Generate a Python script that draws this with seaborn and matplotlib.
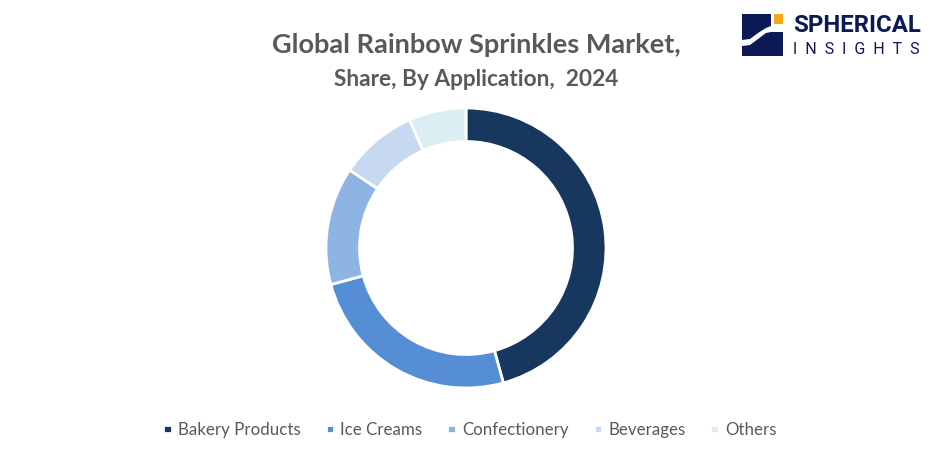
import seaborn as sns
import matplotlib.pyplot as plt
from matplotlib.patches import Rectangle, Polygon

categories = ["Bakery Products", "Ice Creams", "Confectionery", "Beverages", "Others"]
shares = [45.7, 25.1, 13.6, 9.0, 6.6]
colors = ["#17375E", "#558ED5", "#8EB4E3", "#C6D9F1", "#DBEEF4"]

sns.set_theme(style="white")
plt.rcParams['font.family'] = ['Lato', 'DejaVu Sans']

W, H = 932, 459
fig = plt.figure(figsize=(W / 100, H / 100), dpi=100)
ax = fig.add_axes([0, 0, 1, 1])

wedges, _ = ax.pie(shares, colors=sns.color_palette(colors), startangle=90, counterclock=False,
                   center=(466, H - 248), radius=140,
                   wedgeprops=dict(width=33.5, edgecolor="white", linewidth=2))
ax.set_xlim(0, W)
ax.set_ylim(0, H)
ax.set_aspect("equal")
ax.axis("off")

ax.text(476, H - 45, "Global Rainbow Sprinkles Market,", ha="center", va="center",
        fontsize=19.5, fontweight="bold", color="#595959")
ax.text(476, H - 79, "Share, By Application,  2024", ha="center", va="center",
        fontsize=16.3, fontweight="bold", color="#595959")

ax.legend(wedges, categories, ncol=5, loc="center", bbox_to_anchor=(470 / W, 1 - 430 / H),
          frameon=False, fontsize=12.2, labelcolor="#595959", handlelength=0.5, handleheight=0.42,
          handletextpad=0.38, columnspacing=1.46)

# logo
navy = "#0B1A55"
ax.add_patch(Rectangle((742, H - 56), 41, 42, color=navy, lw=0))
ax.add_patch(Rectangle((771, H - 32), 12, 18, color="white", lw=0))
ax.add_patch(Rectangle((774, H - 24), 9, 10, color="#F9A61A", lw=0))
ax.add_patch(Polygon([(742, H - 40), (750, H - 39), (758, H - 33), (766, H - 28), (771, H - 26),
                      (771, H - 32), (766, H - 33), (758, H - 39), (750, H - 45), (742, H - 46)],
                     color="white", lw=0))
ax.text(793, H - 26, "SPHERICAL", ha="left", va="center", fontsize=17.3, fontweight="bold",
        color=navy, family=['Roboto', 'DejaVu Sans'])
ax.text(793, H - 50, "I  N  S  I  G  H  T  S", ha="left", va="center", fontsize=11.5, color=navy,
        family=['Roboto', 'DejaVu Sans'])

fig.savefig("out.png", dpi=100)
